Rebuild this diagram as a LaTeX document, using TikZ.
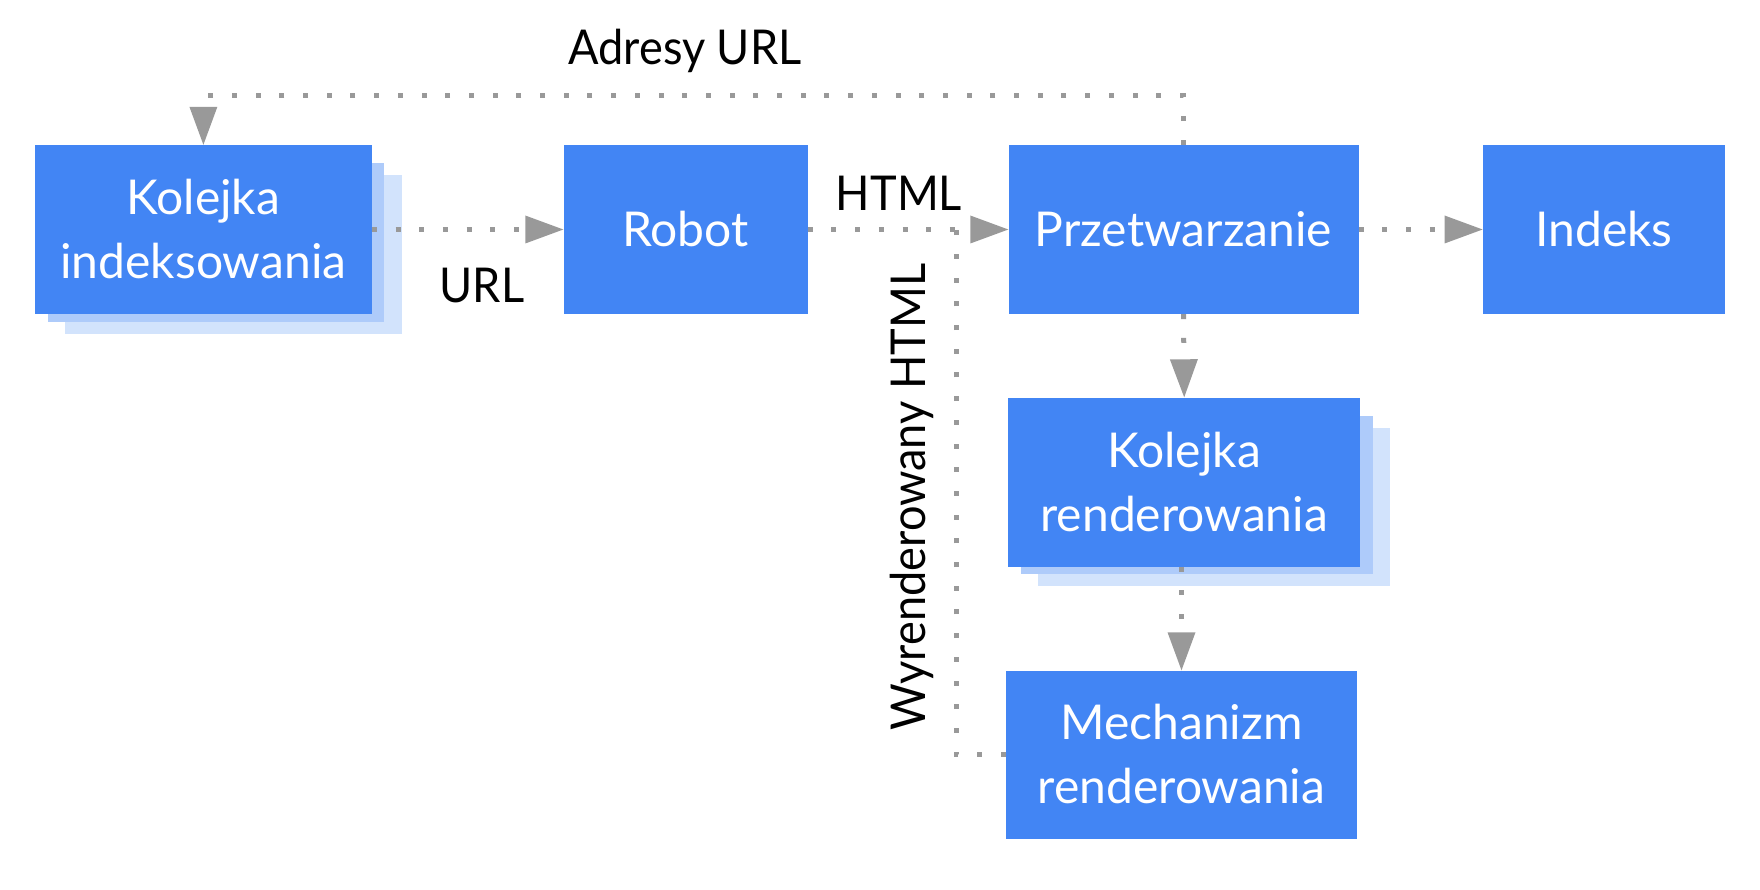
\documentclass[tikz,border=0pt]{standalone}
\usepackage{fontspec}
\setmainfont{Lato}
\newfontfamily\lblfont{Lato}[FakeStretch=0.94]
\usetikzlibrary{arrows.meta}
\definecolor{gblue}{HTML}{4285F4}
\definecolor{shone}{HTML}{AECBFA}
\definecolor{shtwo}{HTML}{D2E3FC}
\definecolor{agray}{HTML}{999999}
\begin{document}
\begin{tikzpicture}[x=1pt,y=-1pt,
  box/.style={fill=gblue, text=white, inner sep=0pt, align=center,
    font=\fontsize{48}{64}\selectfont, minimum height=169pt},
  dotline/.style={draw=agray, line width=5pt, dash pattern=on 5pt off 18.7pt},
  arr/.style={-{Triangle[length=38pt,width=28pt,line width=0pt]}},
  lbl/.style={font=\lblfont\fontsize{48}{64}\selectfont, text=black, inner sep=0pt}
]
\useasboundingbox (0,0) rectangle (1760,890);
% shadows
\fill[shtwo] (65.2,175.5) rectangle (401.6,334);
\fill[shone] (47.7,163.5) rectangle (384.1,322);
\fill[shtwo] (1038.3,428) rectangle (1390,586.4);
\fill[shone] (1020.8,416) rectangle (1372.5,574.4);
% boxes
\node[box, minimum width=336.4pt] (ki) at (203.4,229.5) {Kolejka\\indeksowania};
\node[box, minimum width=244pt] (robot) at (685.5,229.5) {Robot};
\node[box, minimum width=350pt] (prz) at (1183.5,229.5) {Przetwarzanie};
\node[box, minimum width=242.3pt] (idx) at (1603.9,229.5) {Indeks};
\node[box, minimum width=351.7pt] (kr) at (1184.2,482) {Kolejka\\renderowania};
\node[box, minimum width=351.6pt, minimum height=168pt] (mr) at (1181.5,754.5) {Mechanizm\\renderowania};
% coordinates
\coordinate (topy) at (203.4,96);
\coordinate (j) at (956,229.5);
% connectors
\draw[dotline, arr] (ki.east) -- (robot.west);
\draw[dotline, arr] (robot.east) -- (prz.west);
\draw[dotline, arr] (prz.east) -- (idx.west);
\draw[dotline, arr] (prz.north) |- (topy) -- (ki.north);
\draw[dotline, arr] (prz.south) -- (kr.north);
\draw[dotline, arr] (mr.north |- kr.south) -- (mr.north);
\draw[dotline] (mr.west) -| (j);
% labels
\node[lbl, anchor=base] (lurls) at (685,65) {Adresy URL};
\node[lbl, anchor=base] (lhtml) at (899,210.7) {HTML};
\node[lbl, anchor=base] (lurl) at (482,302.7) {URL};
\node[lbl, anchor=base, rotate=90] (lrend) at (925.4,497) {Wyrenderowany HTML};
\end{tikzpicture}
\end{document}
